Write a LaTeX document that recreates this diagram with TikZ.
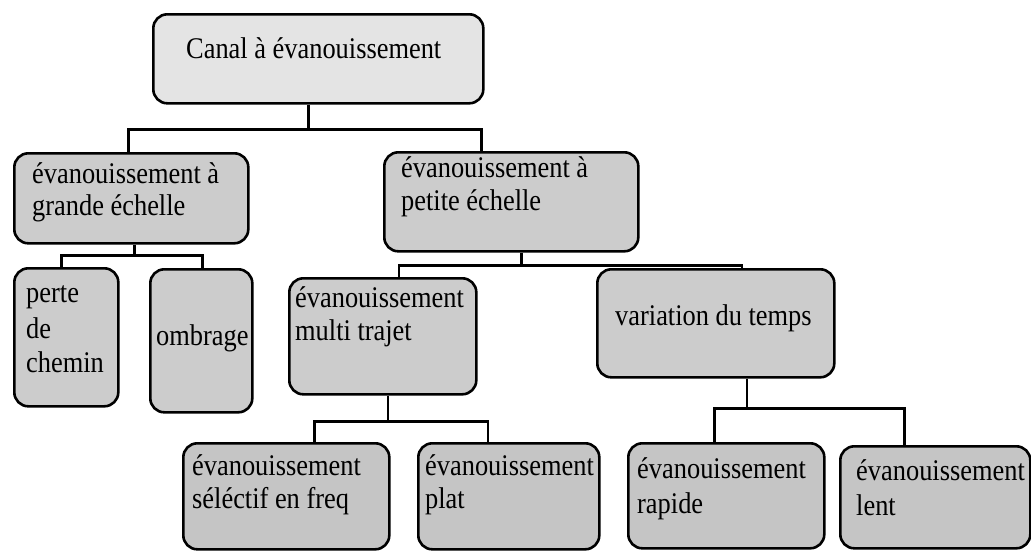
\documentclass[tikz,border=0pt]{standalone}
\usepackage{fontspec}
\setmainfont[FakeStretch=0.88]{Liberation Serif}
\begin{document}
\begin{tikzpicture}[x=1pt,y=-1pt,
  box/.style={draw=black,line width=2.6pt,rounded corners=14pt,inner sep=0pt,anchor=north west},
  rootbox/.style={box,fill=rootgray},
  midbox/.style={box,fill=midgray},
  leafbox/.style={box,fill=leafgray},
  lbl/.style={anchor=base west,inner sep=0pt,font=\fontsize{30}{34}\selectfont},
  conn/.style={draw=black,line width=2.6pt}]
\definecolor{rootgray}{HTML}{E4E4E4}
\definecolor{midgray}{HTML}{CCCCCC}
\definecolor{leafgray}{HTML}{C5C5C5}
\useasboundingbox (0,0) rectangle (1031,550);

% boxes: top-left corner, width, height
\node[rootbox,minimum width=330pt,minimum height=89pt] (root) at (152,13) {};
\node[midbox,minimum width=234pt,minimum height=90pt] (grande) at (13,152) {};
\node[midbox,minimum width=254pt,minimum height=99pt] (petite) at (383,151) {};
\node[midbox,minimum width=104pt,minimum height=138pt] (perte) at (13,267) {};
\node[midbox,minimum width=102pt,minimum height=143pt] (ombrage) at (149,268) {};
\node[midbox,minimum width=187pt,minimum height=116pt] (multi) at (288,277) {};
\node[midbox,minimum width=237pt,minimum height=108pt] (variation) at (596,268) {};
\node[leafbox,minimum width=206pt,minimum height=106pt] (sel) at (182,442) {};
\node[leafbox,minimum width=181pt,minimum height=106pt] (plat) at (417,442) {};
\node[leafbox,minimum width=196pt,minimum height=105pt] (rapide) at (627,442) {};
\node[leafbox,minimum width=190pt,minimum height=102pt] (lent) at (839,445) {};

% labels
\node[lbl] (troot) at (186,58) {Canal à évanouissement};
\node[lbl] (tgr1) at (32,183) {évanouissement à};
\node[lbl] (tgr2) at (32,215) {grande échelle};
\node[lbl] (tpe1) at (401,177) {évanouissement à};
\node[lbl] (tpe2) at (401,210) {petite échelle};
\node[lbl] (tpc1) at (26,302) {perte};
\node[lbl] (tpc2) at (26,338) {de};
\node[lbl] (tpc3) at (26,372) {chemin};
\node[lbl] (tomb) at (156,345) {ombrage};
\node[lbl] (tmu1) at (295,307) {évanouissement};
\node[lbl] (tmu2) at (295,340) {multi trajet};
\node[lbl] (tvar) at (615,325) {variation du temps};
\node[lbl] (tse1) at (192,475) {évanouissement};
\node[lbl] (tse2) at (192,508) {séléctif en freq};
\node[lbl] (tpl1) at (425,475) {évanouissement};
\node[lbl] (tpl2) at (425,508) {plat};
\node[lbl] (tra1) at (637,478) {évanouissement};
\node[lbl] (tra2) at (637,513) {rapide};
\node[lbl] (tle1) at (856,480) {évanouissement};
\node[lbl] (tle2) at (856,515) {lent};

% tree connectors
\draw[conn] ([xshift=-10pt]root.south) -- ++(0,25) coordinate (j0);
\draw[conn] ([xshift=-3pt]grande.north) |- (j0) -| ([xshift=-30pt]petite.north);

\draw[conn] ([xshift=3pt]grande.south) -- ++(0,11) coordinate (j1);
\draw[conn] ([xshift=-5pt]perte.north) |- (j1) -| ([xshift=1pt]ombrage.north);

\draw[conn] ([xshift=10pt]petite.south) -- ++(0,13) coordinate (j2);
\draw[conn] ([xshift=16pt]multi.north) |- (j2) -| ([xshift=26pt]variation.north);

\draw[conn] ([xshift=5pt]multi.south) -- ++(0,26) coordinate (j3);
\draw[conn] ([xshift=28pt]sel.north) |- (j3) -| ([xshift=-21pt]plat.north);

\draw[conn] ([xshift=31pt]variation.south) -- ++(0,30) coordinate (j4);
\draw[conn] ([xshift=-12pt]rapide.north) |- (j4) -| ([xshift=-31pt]lent.north);
\end{tikzpicture}
\end{document}
